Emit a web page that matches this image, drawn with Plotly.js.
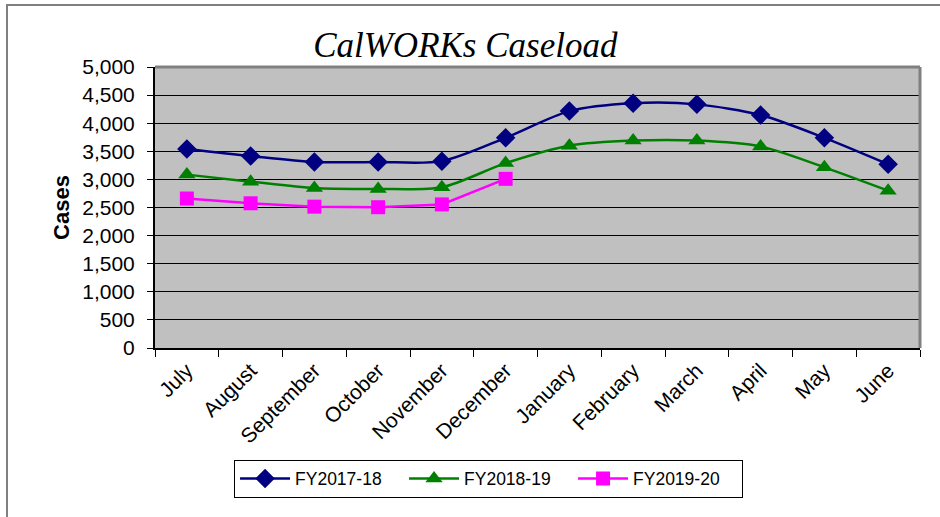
<!DOCTYPE html>
<html>
<head>
<meta charset="utf-8">
<script src="https://cdn.plot.ly/plotly-3.0.1.min.js"></script>
<style>
  html, body { margin: 0; padding: 0; background: #fff; }
  #wrap { position: relative; width: 940px; height: 517px; overflow: hidden; }
  #chart { width: 940px; height: 517px; }
  #frame { position: absolute; left: 6px; top: 4px; width: 1000px; height: 600px;
           border-left: 2px solid #808080; border-top: 2px solid #808080; pointer-events: none; }
</style>
</head>
<body>
<div id="wrap">
  <div id="chart"></div>
  <div id="frame"></div>
</div>
<script>
const months = ["July","August","September","October","November","December","January","February","March","April","May","June"];
const fy1718 = [3540, 3415, 3310, 3310, 3325, 3740, 4215, 4355, 4335, 4145, 3740, 3270];
const fy1819 = [3085, 2960, 2845, 2830, 2860, 3290, 3600, 3690, 3690, 3585, 3215, 2800];
const fy1920 = [2660, 2575, 2515, 2505, 2555, 3010];
const seriesNames = ["FY2017-18", "FY2018-19", "FY2019-20"];
const yTicks = [0, 500, 1000, 1500, 2000, 2500, 3000, 3500, 4000, 4500, 5000];

const font = "Liberation Sans, Arial, sans-serif";

const traces = [
  { x: months, y: fy1718, name: seriesNames[0], type: "scatter", mode: "lines+markers",
    line: { color: "#000080", width: 2.5, shape: "spline", smoothing: 0.8 },
    marker: { symbol: "diamond", size: 15, color: "#000080" } },
  { x: months, y: fy1819, name: seriesNames[1], type: "scatter", mode: "lines+markers",
    line: { color: "#008000", width: 2.5, shape: "spline", smoothing: 0.8 },
    marker: { symbol: "triangle-up", size: 15, color: "#008000" } },
  { x: months.slice(0, fy1920.length), y: fy1920, name: seriesNames[2], type: "scatter", mode: "lines+markers",
    line: { color: "#FF00FF", width: 2.5 },
    marker: { symbol: "square", size: 14, color: "#FF00FF" } }
];

const layout = {
  width: 940, height: 517,
  paper_bgcolor: "rgba(0,0,0,0)",
  plot_bgcolor: "#C0C0C0",
  margin: { l: 155, r: 20, t: 67, b: 169 },
  showlegend: true,
  title: { text: "<i>CalWORKs Caseload</i>", font: { family: "Liberation Serif, Times New Roman, serif", size: 35, color: "#000" },
           x: 0.495, xanchor: "center", y: 0.913, yanchor: "middle" },
  xaxis: {
    type: "category", categoryorder: "array", categoryarray: months,
    tickangle: -45, tickfont: { family: font, size: 21, color: "#000" },
    ticks: "outside", ticklen: 7, tickcolor: "#000", tickson: "boundaries",
    showline: true, linecolor: "#000", linewidth: 2,
    showgrid: false, zeroline: false, automargin: false,
    range: [-0.5, 11.5]
  },
  yaxis: {
    range: [0, 5000], tickvals: yTicks, tickformat: ",d",
    tickfont: { family: font, size: 21, color: "#000" },
    ticks: "outside", ticklen: 6, tickcolor: "#000", ticklabelstandoff: 8,
    showline: true, linecolor: "#000", linewidth: 2,
    showgrid: true, gridcolor: "#000", gridwidth: 1, zeroline: false, automargin: false,
    title: { text: "<b>Cases</b>", font: { family: font, size: 22, color: "#000" }, standoff: 7 }
  },
  legend: {
    orientation: "h", x: 0.436, xanchor: "center", y: -0.397, yanchor: "top",
    bordercolor: "#000", borderwidth: 1, bgcolor: "#fff",
    font: { family: font, size: 17.5, color: "#000" },
    itemwidth: 50, entrywidth: 104, entrywidthmode: "pixels", tracegroupgap: 0
  },
  shapes: [
    { type: "line", xref: "paper", yref: "paper", x0: 0, x1: 1, y0: 1, y1: 1, line: { color: "#808080", width: 3 } },
    { type: "line", xref: "paper", yref: "paper", x0: 1, x1: 1, y0: 0, y1: 1, line: { color: "#808080", width: 3 } }
  ]
};

Plotly.newPlot("chart", traces, layout, { displayModeBar: false, staticPlot: true });
</script>
</body>
</html>
